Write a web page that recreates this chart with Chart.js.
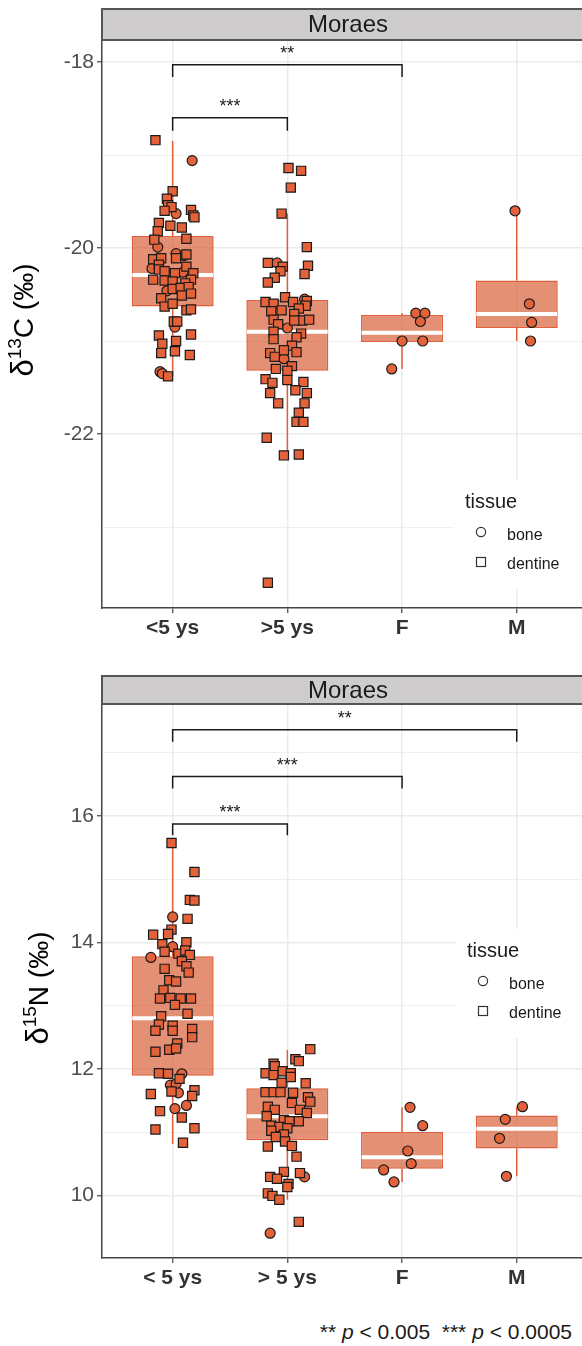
<!DOCTYPE html>
<html>
<head>
<meta charset="utf-8">
<title>Moraes - d13C and d15N</title>
<script src="https://cdn.jsdelivr.net/npm/chart.js@4.4.1/dist/chart.umd.min.js"></script>
<style>
  body { margin: 0; background: #fff; }
  #wrap { position: relative; width: 582px; height: 1346px; overflow: hidden; }
  canvas { position: absolute; left: 0; }
  #c13 { top: 0; }
  #n15 { top: 650px; }
  #note {
    position: absolute; right: 10px; top: 1320px;
    font: 21px "Liberation Sans", Arial, sans-serif; line-height: 24px;
    color: #1a1a1a; white-space: pre;
  }
</style>
</head>
<body>
<div id="wrap">
  <canvas id="c13" width="582" height="650"></canvas>
  <canvas id="n15" width="582" height="650"></canvas>
  <div id="note">** <i>p</i> &lt; 0.005  *** <i>p</i> &lt; 0.0005</div>
</div>
<script>
// CATEGORIES
const groupsC = ['<5 ys', '>5 ys', 'F', 'M'];
const groupsN = ['< 5 ys', '> 5 ys', 'F', 'M'];

// BOX STATS
const c13Low = [-21.38, -22.23, -21.30, -21.00];
const c13Q1 = [-20.63, -21.32, -21.01, -20.86];
const c13Med = [-20.29, -20.90, -20.91, -20.71];
const c13Q3 = [-19.87, -20.56, -20.72, -20.35];
const c13High = [-18.85, -19.63, -20.70, -19.60];

const n15Low = [10.81, 9.93, 10.21, 10.30];
const n15Q1 = [11.89, 10.87, 10.42, 10.74];
const n15Med = [12.80, 11.25, 10.60, 11.05];
const n15Q3 = [13.78, 11.69, 11.00, 11.26];
const n15High = [15.57, 12.30, 11.39, 11.40];

// POINTS: [jitter, value, tissue]  b = bone, d = dentine
const c13Young = [
  [-0.15, -18.84, 'd'], [0.17, -19.06, 'b'], [0.00, -19.39, 'd'], [-0.05, -19.47, 'd'],
  [-0.04, -19.54, 'd'], [-0.01, -19.56, 'd'], [-0.07, -19.60, 'd'], [0.03, -19.63, 'b'],
  [0.16, -19.59, 'd'], [0.18, -19.65, 'd'], [0.19, -19.67, 'd'], [-0.12, -19.73, 'd'],
  [-0.02, -19.76, 'd'], [0.08, -19.78, 'd'], [-0.13, -19.82, 'd'], [0.12, -19.90, 'd'],
  [-0.16, -19.91, 'd'], [-0.13, -19.99, 'b'], [0.03, -20.06, 'b'], [0.10, -20.08, 'b'],
  [0.12, -20.07, 'd'], [0.03, -20.11, 'd'], [-0.17, -20.12, 'd'], [-0.10, -20.11, 'd'],
  [-0.12, -20.18, 'd'], [0.12, -20.20, 'd'], [-0.18, -20.22, 'b'], [-0.12, -20.23, 'd'],
  [-0.07, -20.25, 'd'], [0.02, -20.27, 'd'], [0.09, -20.26, 'b'], [0.18, -20.27, 'd'],
  [-0.17, -20.34, 'd'], [-0.07, -20.35, 'd'], [0.00, -20.36, 'd'], [0.16, -20.34, 'd'],
  [0.11, -20.38, 'd'], [-0.05, -20.46, 'b'], [0.00, -20.44, 'd'], [0.07, -20.43, 'd'],
  [0.14, -20.42, 'd'], [-0.10, -20.54, 'd'], [0.08, -20.51, 'd'], [0.16, -20.49, 'd'],
  [-0.07, -20.63, 'd'], [0.00, -20.60, 'd'], [0.12, -20.67, 'd'], [0.16, -20.66, 'd'],
  [0.01, -20.79, 'd'], [0.04, -20.79, 'd'], [0.02, -20.85, 'b'], [-0.12, -20.94, 'd'],
  [0.16, -20.93, 'd'], [-0.09, -21.03, 'd'], [0.03, -21.00, 'd'], [-0.10, -21.13, 'd'],
  [0.02, -21.11, 'd'], [0.15, -21.15, 'd'], [-0.11, -21.33, 'b'], [-0.09, -21.35, 'b'],
  [-0.04, -21.38, 'd']
];
const c13Old = [
  [0.01, -19.14, 'd'], [0.12, -19.17, 'd'], [0.03, -19.35, 'd'], [-0.05, -19.63, 'd'],
  [0.17, -19.99, 'd'], [-0.17, -20.16, 'd'], [-0.09, -20.16, 'b'], [-0.04, -20.20, 'd'],
  [0.18, -20.19, 'd'], [-0.06, -20.25, 'd'], [0.15, -20.28, 'd'], [-0.11, -20.32, 'd'],
  [-0.17, -20.37, 'd'], [-0.02, -20.53, 'd'], [-0.19, -20.58, 'd'], [0.15, -20.55, 'b'],
  [0.17, -20.57, 'd'], [0.16, -20.62, 'd'], [-0.12, -20.60, 'd'], [0.05, -20.58, 'd'],
  [-0.05, -20.67, 'd'], [0.10, -20.65, 'd'], [-0.14, -20.68, 'd'], [0.06, -20.71, 'd'],
  [-0.12, -20.77, 'd'], [0.13, -20.78, 'd'], [0.19, -20.77, 'd'], [0.06, -20.78, 'd'],
  [-0.08, -20.82, 'd'], [0.00, -20.86, 'b'], [-0.12, -20.90, 'd'], [0.12, -20.92, 'd'],
  [0.08, -20.96, 'd'], [-0.12, -20.98, 'd'], [0.04, -21.05, 'd'], [-0.03, -21.10, 'd'],
  [-0.15, -21.13, 'd'], [-0.11, -21.17, 'd'], [0.08, -21.12, 'd'], [-0.03, -21.19, 'b'],
  [0.04, -21.27, 'd'], [-0.10, -21.30, 'd'], [0.00, -21.32, 'd'], [-0.19, -21.41, 'd'],
  [-0.13, -21.45, 'd'], [0.00, -21.42, 'd'], [0.14, -21.44, 'd'], [-0.15, -21.56, 'd'],
  [0.07, -21.53, 'd'], [0.17, -21.56, 'd'], [-0.08, -21.67, 'd'], [0.15, -21.67, 'd'],
  [0.10, -21.77, 'd'], [0.08, -21.87, 'd'], [0.14, -21.87, 'd'], [-0.18, -22.04, 'd'],
  [-0.03, -22.23, 'd'], [0.10, -22.22, 'd'], [-0.17, -23.60, 'd']
];
const c13Fem = [
  [0.12, -20.70, 'b'], [0.20, -20.70, 'b'], [0.16, -20.79, 'b'],
  [0.00, -21.00, 'b'], [0.18, -21.00, 'b'], [-0.09, -21.30, 'b']
];
const c13Male = [[-0.015, -19.60, 'b'], [0.11, -20.60, 'b'], [0.13, -20.80, 'b'], [0.12, -21.00, 'b']];

const n15Young = [
  [-0.01, 15.57, 'd'], [0.19, 15.11, 'd'], [0.15, 14.67, 'd'], [0.19, 14.66, 'd'],
  [0.00, 14.40, 'b'], [0.13, 14.37, 'd'], [-0.01, 14.20, 'd'], [-0.17, 14.12, 'd'],
  [-0.04, 14.13, 'd'], [-0.09, 13.97, 'd'], [0.00, 13.93, 'b'], [0.12, 14.00, 'd'],
  [-0.19, 13.76, 'b'], [-0.07, 13.85, 'd'], [0.05, 13.82, 'd'], [0.11, 13.87, 'd'],
  [0.15, 13.80, 'd'], [0.08, 13.70, 'd'], [0.12, 13.62, 'd'], [-0.07, 13.58, 'd'],
  [0.14, 13.52, 'd'], [-0.03, 13.40, 'd'], [0.03, 13.38, 'd'], [-0.08, 13.24, 'd'],
  [-0.11, 13.11, 'd'], [-0.02, 13.12, 'd'], [0.07, 13.11, 'd'], [0.16, 13.11, 'd'],
  [0.02, 13.01, 'd'], [0.13, 12.87, 'd'], [-0.10, 12.83, 'd'], [-0.12, 12.70, 'd'],
  [0.00, 12.68, 'd'], [-0.15, 12.60, 'd'], [0.17, 12.63, 'd'], [0.00, 12.60, 'd'],
  [0.17, 12.50, 'd'], [0.04, 12.40, 'd'], [-0.03, 12.30, 'd'], [0.03, 12.32, 'd'],
  [-0.15, 12.27, 'd'], [-0.12, 11.93, 'd'], [-0.04, 11.92, 'd'], [0.08, 11.92, 'b'],
  [0.06, 11.84, 'd'], [-0.02, 11.74, 'b'], [0.03, 11.76, 'b'], [-0.19, 11.60, 'd'],
  [-0.01, 11.64, 'd'], [0.05, 11.62, 'b'], [0.19, 11.66, 'd'], [0.17, 11.57, 'd'],
  [-0.11, 11.33, 'd'], [0.02, 11.37, 'b'], [0.12, 11.42, 'b'], [0.08, 11.23, 'd'],
  [-0.15, 11.04, 'd'], [0.19, 11.06, 'd'], [0.09, 10.83, 'd']
];
const n15Old = [
  [0.20, 12.31, 'd'], [0.07, 12.15, 'd'], [0.10, 12.12, 'd'], [-0.12, 12.08, 'd'],
  [-0.11, 12.04, 'd'], [-0.19, 11.93, 'd'], [-0.12, 11.90, 'd'], [-0.04, 11.96, 'd'],
  [0.03, 11.93, 'd'], [0.03, 11.87, 'd'], [-0.05, 11.78, 'd'], [0.16, 11.77, 'd'],
  [-0.19, 11.63, 'd'], [-0.12, 11.63, 'd'], [-0.06, 11.63, 'd'], [0.05, 11.62, 'd'],
  [0.18, 11.55, 'd'], [0.20, 11.48, 'd'], [0.04, 11.46, 'd'], [-0.17, 11.40, 'd'],
  [-0.11, 11.35, 'd'], [0.11, 11.35, 'd'], [0.17, 11.30, 'd'], [-0.18, 11.25, 'd'],
  [-0.03, 11.19, 'd'], [0.02, 11.17, 'd'], [0.10, 11.17, 'd'], [-0.14, 11.10, 'd'],
  [-0.07, 11.08, 'd'], [0.00, 11.06, 'd'], [-0.14, 11.02, 'd'], [-0.03, 10.96, 'd'],
  [-0.10, 10.92, 'd'], [-0.02, 10.85, 'd'], [-0.17, 10.77, 'd'], [0.04, 10.78, 'd'],
  [0.08, 10.61, 'd'], [-0.03, 10.37, 'd'], [-0.15, 10.29, 'd'], [-0.09, 10.26, 'd'],
  [0.11, 10.35, 'd'], [0.15, 10.29, 'b'], [0.01, 10.18, 'd'], [0.00, 10.13, 'd'],
  [-0.17, 10.03, 'd'], [-0.13, 9.99, 'd'], [-0.07, 9.93, 'd'], [0.10, 9.58, 'd'],
  [-0.15, 9.40, 'b']
];
const n15Fem = [
  [0.07, 11.39, 'b'], [0.18, 11.10, 'b'], [0.05, 10.70, 'b'],
  [0.08, 10.50, 'b'], [-0.16, 10.40, 'b'], [-0.07, 10.21, 'b']
];
const n15Male = [[0.05, 11.40, 'b'], [-0.10, 11.20, 'b'], [-0.15, 10.90, 'b'], [-0.09, 10.30, 'b']];

// SIGNIFICANCE BRACKETS: [from group, to group, bracket level, tip end, label]
const c13Sig = [[1, 3, -18.03, -18.16, '**'], [1, 2, -18.60, -18.74, '***']];
const n15Sig = [[1, 4, 17.36, 17.17, '**'], [1, 3, 16.62, 16.43, '***'], [1, 2, 15.87, 15.69, '***']];

// AXIS TICKS
const c13Ticks = [-23, -22, -21, -20, -19, -18];
const c13Labels = [-22, -20, -18];
const n15Ticks = [10, 11, 12, 13, 14, 15, 16, 17];
const n15Labels = [10, 12, 14, 16];


// STYLE
Chart.defaults.font.family = '"Liberation Sans", Arial, sans-serif';
const ORANGE = 'rgb(224, 96, 60)';
const BOX_FILL = 'rgba(214, 92, 52, 0.68)';
const POINT_FILL = 'rgb(228, 98, 58)';
const HALF_BOX = 0.352;
const FONT = 'px "Liberation Sans", Arial, sans-serif';

// strip, y title, star labels and legend
const panelDecor = {
  id: 'panelDecor',
  afterDraw(chart, args, opts) {
    const ctx = chart.ctx;
    const area = chart.chartArea;
    const xs = chart.scales.x;
    const ys = chart.scales.y;
    ctx.save();

    // strip
    ctx.fillStyle = '#cecccc';
    ctx.fillRect(area.left, area.top - opts.stripHeight, chart.width, opts.stripHeight);
    ctx.strokeStyle = '#555';
    ctx.lineWidth = 2;
    ctx.strokeRect(area.left, area.top - opts.stripHeight, chart.width + 10, opts.stripHeight);
    ctx.fillStyle = '#1a1a1a';
    ctx.font = '24' + FONT;
    ctx.textAlign = 'center';
    ctx.textBaseline = 'middle';
    ctx.fillText('Moraes', opts.stripTextX, area.top - opts.stripHeight / 2 + 1);

    // significance stars
    ctx.font = '18' + FONT;
    ctx.textBaseline = 'alphabetic';
    opts.sig.forEach(([a, b, level, tip, label]) => {
      ctx.fillText(label, xs.getPixelForValue((a + b) / 2), ys.getPixelForValue(level) - 6);
    });

    // y axis title with superscript
    ctx.translate(opts.titleX, opts.titleY);
    ctx.rotate(-Math.PI / 2);
    ctx.textAlign = 'left';
    ctx.fillStyle = '#000';
    const parts = [['δ', 31, 0], [opts.sup, 19, 12], [opts.elem + ' (‰)', 28, 0]];
    let total = 0;
    parts.forEach(([t, size]) => {
      ctx.font = size + FONT;
      total += ctx.measureText(t).width;
    });
    let pos = -total / 2;
    parts.forEach(([t, size, rise]) => {
      ctx.font = size + FONT;
      ctx.fillText(t, pos, -rise);
      pos += ctx.measureText(t).width;
    });
    ctx.setTransform(1, 0, 0, 1, 0, 0);

    // legend
    const lx = opts.legendX;
    const ly = opts.legendY;
    ctx.fillStyle = '#fff';
    ctx.fillRect(lx - 11, ly - 28, 140, 109);
    ctx.fillStyle = '#1a1a1a';
    ctx.font = '20' + FONT;
    ctx.fillText('tissue', lx, ly);
    ctx.font = '16' + FONT;
    ctx.fillText('bone', lx + 42, ly + 32);
    ctx.fillText('dentine', lx + 42, ly + 61);
    ctx.strokeStyle = '#333';
    ctx.lineWidth = 1.2;
    ctx.beginPath();
    ctx.arc(lx + 16, ly + 24, 4.6, 0, Math.PI * 2);
    ctx.stroke();
    ctx.strokeRect(lx + 11.5, ly + 49.5, 9, 9);

    ctx.restore();
  }
};

function makeChart(id, setup) {
  const {groups, points, low, q1, med, q3, high, sig, ticks, labels} = setup;

  const boxes = q1.map((v, i) => ({x: i + 1, y: [v, q3[i]]}));
  const whiskers = [];
  const medians = [];
  low.forEach((v, i) => {
    const x = i + 1;
    whiskers.push({x: x, y: high[i]}, {x: x, y: q3[i]}, {x: x, y: null},
                  {x: x, y: q1[i]}, {x: x, y: v}, {x: x, y: null});
    medians.push({x: x - HALF_BOX, y: med[i]}, {x: x + HALF_BOX, y: med[i]}, {x: x, y: null});
  });

  const bone = [];
  const dentine = [];
  points.forEach((pts, i) => {
    pts.forEach(([jit, val, tissue]) => {
      (tissue === 'b' ? bone : dentine).push({x: i + 1 + jit, y: val});
    });
  });

  const brackets = sig.map(([a, b, level, tip]) => ({
    type: 'line',
    data: [{x: a, y: tip}, {x: a, y: level}, {x: b, y: level}, {x: b, y: tip}],
    borderColor: '#1a1a1a',
    borderWidth: 1.5,
    pointRadius: 0,
    order: 0
  }));

  const isMajor = c => c.tick && labels.includes(c.tick.value);

  return new Chart(document.getElementById(id), {
    type: 'bar',
    data: {
      datasets: [
        {
          type: 'bar',
          data: boxes,
          backgroundColor: BOX_FILL,
          borderColor: ORANGE,
          borderWidth: 1.5,
          borderSkipped: false,
          categoryPercentage: 1,
          barPercentage: 0.715,
          order: 3
        },
        {
          type: 'line',
          data: whiskers,
          borderColor: ORANGE,
          borderWidth: 1.5,
          pointRadius: 0,
          order: 4
        },
        {
          type: 'line',
          data: medians,
          borderColor: '#fff',
          borderWidth: 4,
          pointRadius: 0,
          order: 2
        },
        {
          type: 'scatter',
          data: dentine,
          pointStyle: 'rect',
          pointRadius: 6.5,
          backgroundColor: POINT_FILL,
          borderColor: '#1a1a1a',
          borderWidth: 1.2,
          order: 1
        },
        {
          type: 'scatter',
          data: bone,
          pointStyle: 'circle',
          pointRadius: 5,
          backgroundColor: POINT_FILL,
          borderColor: '#1a1a1a',
          borderWidth: 1.2,
          order: 1
        },
        ...brackets
      ]
    },
    options: {
      responsive: false,
      animation: false,
      events: [],
      layout: {autoPadding: false, padding: {top: setup.top, left: 0, right: 0, bottom: 0}},
      plugins: {
        legend: {display: false},
        tooltip: {enabled: false},
        panelDecor: setup.decor
      },
      scales: {
        x: {
          type: 'linear',
          min: 0.384,
          max: 4.569,
          offset: false,
          afterBuildTicks: s => { s.ticks = groups.map((g, i) => ({value: i + 1})); },
          afterFit: s => { s.height = 42; },
          ticks: {
            callback: (v, i) => groups[i],
            font: {size: 21, weight: 'bold'},
            color: '#333',
            padding: 3,
            maxRotation: 0,
            autoSkip: false
          },
          grid: {color: '#ebebeb', lineWidth: 1.5, tickColor: '#444', tickLength: 5, tickWidth: 1.2, offset: false},
          border: {color: '#444', width: 1.5}
        },
        y: {
          type: 'linear',
          min: setup.yMin,
          max: setup.yMax,
          afterBuildTicks: s => { s.ticks = ticks.map(v => ({value: v})); },
          afterFit: s => { s.width = 102; },
          ticks: {
            callback: v => labels.includes(v) ? String(v) : '',
            font: {size: 21},
            color: '#4d4d4d',
            padding: 3,
            autoSkip: false
          },
          grid: {
            color: '#ebebeb',
            lineWidth: c => isMajor(c) ? 1.5 : 0.8,
            tickColor: c => isMajor(c) ? '#444' : 'rgba(0,0,0,0)',
            tickLength: 5,
            tickWidth: 1.2
          },
          border: {color: '#444', width: 1.5}
        }
      }
    },
    plugins: [panelDecor]
  });
}


// CARBON PANEL
const c13Chart = makeChart('c13', {
  groups: groupsC,
  points: [c13Young, c13Old, c13Fem, c13Male],
  low: c13Low, q1: c13Q1, med: c13Med, q3: c13Q3, high: c13High,
  sig: c13Sig,
  ticks: c13Ticks,
  labels: c13Labels,
  yMin: -23.871,
  yMax: -17.763,
  top: 40,
  decor: {
    stripHeight: 31, stripTextX: 348, sig: c13Sig,
    titleX: 33, titleY: 320, sup: '13', elem: 'C',
    legendX: 465, legendY: 508
  }
});

// NITROGEN PANEL
const n15Chart = makeChart('n15', {
  groups: groupsN,
  points: [n15Young, n15Old, n15Fem, n15Male],
  low: n15Low, q1: n15Q1, med: n15Med, q3: n15Q3, high: n15High,
  sig: n15Sig,
  ticks: n15Ticks,
  labels: n15Labels,
  yMin: 9.008,
  yMax: 17.767,
  top: 54,
  decor: {
    stripHeight: 28, stripTextX: 348, sig: n15Sig,
    titleX: 48, titleY: 338, sup: '15', elem: 'N',
    legendX: 467, legendY: 307
  }
});
</script>
</body>
</html>
